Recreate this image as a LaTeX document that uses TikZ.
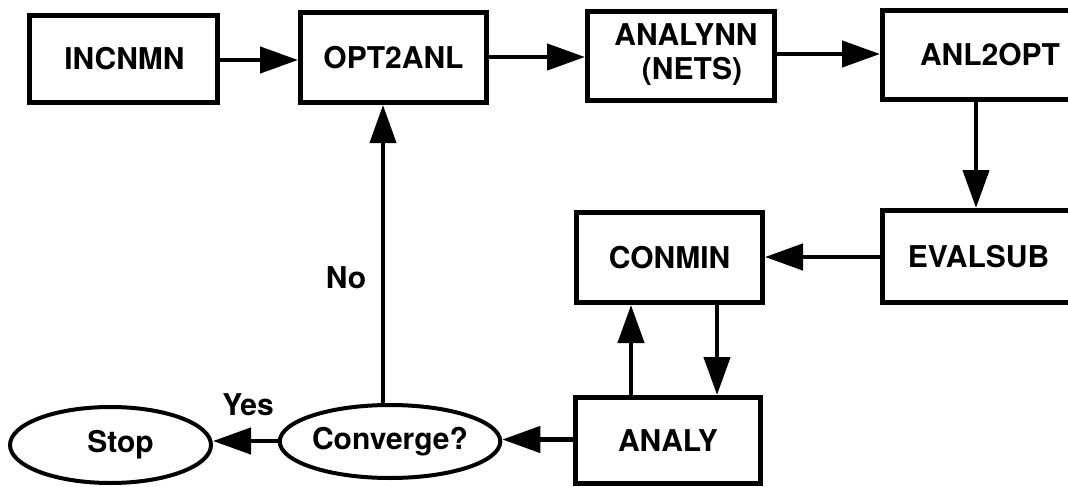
\documentclass[tikz,border=0pt]{standalone}
\usepackage{fontspec}
\setmainfont{TeX Gyre Heros}
\usetikzlibrary{arrows.meta,shapes.geometric}
\begin{document}
\begin{tikzpicture}[x=1pt,y=-1pt,
  font=\fontsize{30}{32}\selectfont\bfseries,
  box/.style={draw,line width=5pt,rectangle,align=center,inner sep=0pt},
  oval/.style={draw,line width=4pt,ellipse,inner sep=0pt},
  arr/.style={line width=4.5pt,-{Triangle[length=38pt,width=26pt]}},
  lbl/.style={inner sep=0pt}]
\useasboundingbox (0,0) rectangle (1068,487);
\node[box,minimum width=188pt,minimum height=87pt] (inc) at (123.5,59) {\hspace*{2pt}INCNMN};
\node[box,minimum width=186pt,minimum height=90pt] (opt) at (393.5,57.5) {OPT2ANL};
\node[box,minimum width=187pt,minimum height=89pt] (ana) at (681,56)
  {\raisebox{-5pt}{\begin{tabular}{@{}c@{}}\hspace*{10pt}ANALYNN\\[2.5pt]\hspace*{22pt}(NETS)\end{tabular}}};
\node[box,minimum width=240pt,minimum height=89pt] (a2o) at (1002.5,55) {\hspace*{-25pt}ANL2OPT};
\node[box,minimum width=240pt,minimum height=92pt] (eval) at (1002.5,256.5) {\hspace*{-48pt}EVALSUB};
\node[box,minimum width=186pt,minimum height=90pt] (con) at (669.5,257.5) {CONMIN};
\node[box,minimum width=185pt,minimum height=86pt] (analy) at (668,440.5) {ANALY};
\node[oval,minimum width=202pt,minimum height=73pt] (conv) at (390,441.5) {Converge?};
\node[oval,minimum width=201pt,minimum height=76pt] (stop) at (110.5,445) {\hspace*{20pt}Stop};
\node[lbl] (yes) at (248,405) {Yes};
\node[lbl] (no) at (346,278) {No};
\draw[arr] ([yshift=-1pt]inc.east) -- ([yshift=-1pt]inc.east -| opt.west);
\draw[arr] ([yshift=0.5pt]opt.east) -- ([yshift=0.5pt]opt.east -| ana.west);
\draw[arr] ([yshift=2pt]ana.east) -- ([yshift=2pt]ana.east -| a2o.west);
\draw[arr] ([xshift=-26.5pt]a2o.south) -- ([xshift=-26.5pt]a2o.south |- eval.north);
\draw[arr] ([yshift=-0.5pt]eval.west) -- ([yshift=-0.5pt]eval.west -| con.east);
\draw[arr] ([xshift=47.5pt]con.south) -- ([xshift=47.5pt]con.south |- analy.north);
\draw[arr] ([xshift=-37pt]analy.north) -- ([xshift=-37pt]analy.north |- con.south);
\draw[arr] ([yshift=1pt]analy.west) -- ([yshift=1pt]analy.west -| conv.east);
\draw[arr] ([yshift=0.5pt]conv.west) -- ([yshift=0.5pt]conv.west -| stop.east);
\draw[arr,line width=4pt] ([xshift=-7pt]conv.north) -- ([xshift=-7pt]conv.north |- opt.south);
\end{tikzpicture}
\end{document}
